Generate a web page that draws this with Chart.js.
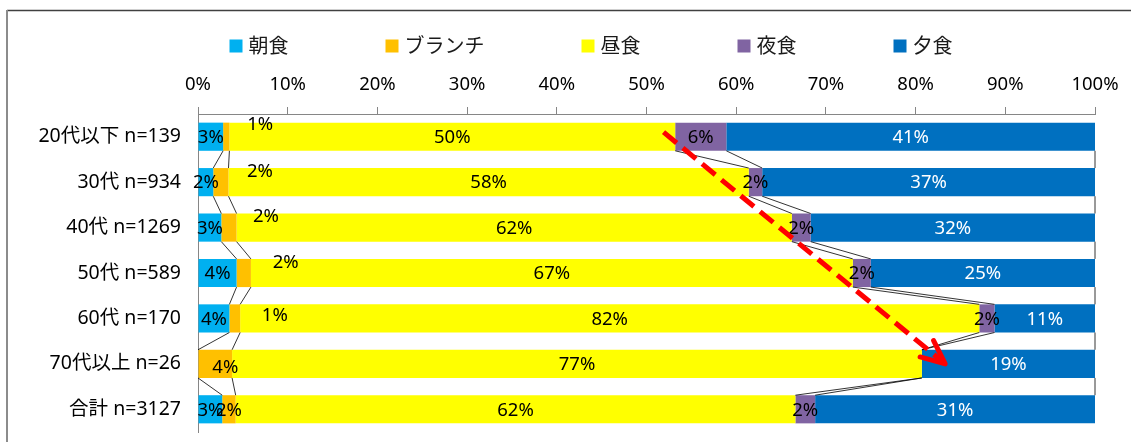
<!DOCTYPE html>
<html><head><meta charset="utf-8">
<script src="https://cdn.jsdelivr.net/npm/chart.js@4.4.1/dist/chart.umd.min.js"></script>
<style>html,body{margin:0;padding:0;background:#fff;}#wrap{position:relative;width:1131px;height:442px;}canvas{display:block;}</style>
</head><body><div id="wrap"><canvas id="c" width="1131" height="442"></canvas></div>
<script>
const categories = ['20代以下 n=139','30代 n=934','40代 n=1269','50代 n=589','60代 n=170','70代以上 n=26','合計 n=3127'];
const seriesNames = ['朝食','ブランチ','昼食','夜食','夕食'];
const breakfast = [2.8, 1.7, 2.6, 4.3, 3.5, 0, 2.7];
const brunch    = [0.7, 1.7, 1.7, 1.6, 1.2, 3.8, 1.5];
const lunch     = [49.7, 58.0, 61.9, 67.1, 82.4, 76.9, 62.4];
const lateNight = [5.7, 1.5, 2.1, 2.0, 1.7, 0, 2.2];
const dinner    = [41.1, 37.1, 31.7, 25.0, 11.2, 19.3, 31.2];
const xTickLabels = ['0%','10%','20%','30%','40%','50%','60%','70%','80%','90%','100%'];

const seriesColors = ['#00B0F0','#FFC000','#FFFF00','#8064A2','#0070C0'];
const labelColors = ['#000','#000','#000','#000','#fff'];
const FONT = '"Noto Sans","Noto Sans CJK JP",sans-serif';
// manual label offsets (px) for the brunch labels, as moved in the original
const brunchLabelOffsets = [[34,-13],[39,-11],[37,-12],[42,-11.5],[40,-4],[10,3],[0,0]];

const frame = {
  id:'frame',
  beforeDraw(chart){
    const ctx = chart.ctx;
    ctx.save();
    ctx.fillStyle = '#fff'; ctx.fillRect(0,0,chart.width,chart.height);
    ctx.lineWidth = 1.5;
    ctx.strokeStyle = '#404040';
    ctx.beginPath(); ctx.moveTo(7,10.5); ctx.lineTo(chart.width,10.5); ctx.stroke();
    ctx.strokeStyle = '#8c8c8c'; ctx.lineWidth = 2;
    ctx.beginPath(); ctx.moveTo(7,10); ctx.lineTo(7,chart.height); ctx.stroke();
    ctx.restore();
  }
};

const seriesLines = {
  id:'seriesLines',
  afterDatasetsDraw(chart){
    const ctx = chart.ctx;
    ctx.save();
    ctx.strokeStyle = '#000'; ctx.lineWidth = 0.8;
    chart.data.datasets.forEach((ds,d)=>{
      const els = chart.getDatasetMeta(d).data;
      for(let r=0;r<els.length-1;r++){
        const a = els[r], b = els[r+1];
        ctx.beginPath();
        ctx.moveTo(a.x, a.y + a.height/2);
        ctx.lineTo(b.x, b.y - b.height/2);
        ctx.stroke();
      }
    });
    ctx.restore();
  }
};

const dataLabels = {
  id:'dataLabels',
  afterDatasetsDraw(chart){
    const ctx = chart.ctx;
    ctx.save();
    ctx.font = '18.5px ' + FONT;
    ctx.textAlign = 'center'; ctx.textBaseline = 'middle';
    chart.data.datasets.forEach((ds,d)=>{
      const els = chart.getDatasetMeta(d).data;
      els.forEach((el,r)=>{
        const v = ds.data[r];
        if(!v) return;
        let x = (el.x + el.base)/2, y = el.y;
        if(d===1){ x += brunchLabelOffsets[r][0]; y += brunchLabelOffsets[r][1]; }
        ctx.fillStyle = labelColors[d];
        ctx.fillText(Math.round(v)+'%', x, y+1);
      });
    });
    ctx.restore();
  }
};

const arrow = {
  id:'arrow',
  afterDatasetsDraw(chart){
    const xs = chart.scales.x, ys = chart.scales.y, ctx = chart.ctx;
    const x1 = xs.getPixelForValue(51.9), y1 = ys.getPixelForValue(-0.1);
    const x2 = xs.getPixelForValue(83.3), y2 = ys.getPixelForValue(5.0);
    const ang = Math.atan2(y2-y1, x2-x1);
    ctx.save();
    ctx.strokeStyle = '#FF0000'; ctx.lineWidth = 5;
    ctx.setLineDash([17,8]);
    ctx.beginPath(); ctx.moveTo(x1,y1); ctx.lineTo(x2-4*Math.cos(ang), y2-4*Math.sin(ang)); ctx.stroke();
    ctx.setLineDash([]);
    ctx.lineCap = 'round'; ctx.lineJoin = 'round';
    const L = 26, spread = 0.42;
    ctx.beginPath();
    ctx.moveTo(x2 - L*Math.cos(ang-spread), y2 - L*Math.sin(ang-spread));
    ctx.lineTo(x2, y2);
    ctx.lineTo(x2 - L*Math.cos(ang+spread), y2 - L*Math.sin(ang+spread));
    ctx.stroke();
    ctx.restore();
  }
};

const topLegend = {
  id:'topLegend',
  afterDraw(chart){
    const ctx = chart.ctx;
    ctx.save();
    ctx.font = '20px ' + FONT;
    ctx.textBaseline = 'middle'; ctx.textAlign = 'left';
    const box = 13, gap = 6, spacing = 97, cy = 46, centerX = 591;
    const widths = chart.data.datasets.map(ds => box + gap + ctx.measureText(ds.label).width);
    const total = widths.reduce((a,b)=>a+b,0) + spacing*(widths.length-1);
    let x = centerX - total/2;
    chart.data.datasets.forEach((ds,i)=>{
      ctx.fillStyle = ds.backgroundColor;
      ctx.fillRect(x, cy - box/2, box, box);
      ctx.fillStyle = '#1a1a1a';
      ctx.fillText(ds.label, x + box + gap, cy + 1);
      x += widths[i] + spacing;
    });
    ctx.restore();
  }
};

const seriesValues = [breakfast, brunch, lunch, lateNight, dinner];
new Chart(document.getElementById('c'), {
  type:'bar',
  data:{
    labels: categories,
    datasets: seriesNames.map((n,i)=>({
      label:n, data:seriesValues[i], backgroundColor:seriesColors[i],
      borderWidth:0, barPercentage:0.62, categoryPercentage:1
    }))
  },
  options:{
    indexAxis:'y', responsive:false, animation:false, devicePixelRatio:1,
    layout:{padding:{left:0,right:36,top:62,bottom:10}},
    plugins:{legend:{display:false}, tooltip:{enabled:false}},
    scales:{
      x:{
        position:'top', stacked:true, min:0, max:100,
        ticks:{stepSize:10, padding:11, color:'#000', font:{family:FONT,size:18.5},
          callback:(v,i)=>xTickLabels[i]},
        grid:{drawOnChartArea:false, drawTicks:true, tickLength:7, color:'#868686', lineWidth:1},
        border:{display:true, color:'#868686', width:1},
        afterFit(s){ s.height = 52; s.paddingLeft = 0; s.paddingRight = 0; }
      },
      y:{
        stacked:true,
        ticks:{padding:17, color:'#000', font:{family:FONT,size:19.5}},
        grid:{drawOnChartArea:false, drawTicks:false},
        border:{display:true, color:'#868686', width:1},
        afterFit(s){ s.width = 198; s.paddingTop = 0; s.paddingBottom = 0; }
      }
    }
  },
  plugins:[frame, seriesLines, dataLabels, arrow, topLegend]
});
</script></body></html>
